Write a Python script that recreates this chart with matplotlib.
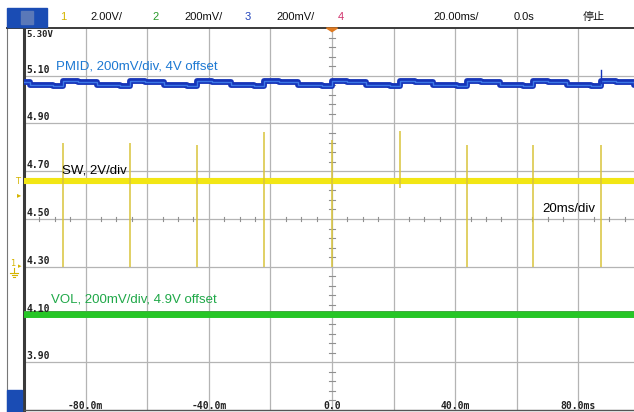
import matplotlib
matplotlib.use("Agg")
import matplotlib.pyplot as plt
from matplotlib.patches import Rectangle, Polygon
from matplotlib.lines import Line2D

W, H = 634, 412

# axis labels
x_ticks = [-80, -40, 0, 40, 80]
x_labels = ["-80.0m", "-40.0m", "0.0", "40.0m", "80.0ms"]
y_levels = [5.10, 4.90, 4.70, 4.50, 4.30, 4.10, 3.90]
y_labels = ["5.10", "4.90", "4.70", "4.50", "4.30", "4.10", "3.90"]

# PMID (blue): jumps once per switching burst, then steps down
pmid_jump_t = [-87.3, -65.6, -43.8, -22.1, 0.0, 22.1, 43.8, 65.3, 87.3]
pmid_step_frac = [0.0, 0.22, 0.5, 0.85]
pmid_step_v = [5.080, 5.072, 5.063, 5.055]

# SW (yellow): flat level with narrow spikes
sw_level = 4.659
sw_spike_t = [-87.3, -65.6, -43.8, -22.1, 0.0, 22.1, 43.8, 65.3, 87.3]
sw_spike_top = [4.818, 4.818, 4.81, 4.864, 4.83, 4.868, 4.81, 4.81, 4.81]
sw_spike_bot = [4.30, 4.30, 4.30, 4.30, 4.30, 4.63, 4.30, 4.30, 4.30]

# VOL (green)
vol_level = 4.104


def px(x, y):
    return x / W, 1 - y / H


fig = plt.figure(figsize=(W / 100, H / 100), dpi=100)
fig.patch.set_facecolor("white")
ax = fig.add_axes([24 / W, 2 / H, (W - 24) / W, 382 / H])
ax.set_xlim(-100, 98.05)
ax.set_ylim(3.70, 5.30)
ax.set_xticks([])
ax.set_yticks([])
ax.spines["right"].set_visible(False)
ax.spines["left"].set_linewidth(2.2)
ax.spines["left"].set_color("#3a3a3a")
ax.spines["top"].set_linewidth(1.4)
ax.spines["top"].set_color("#3a3a3a")
ax.spines["bottom"].set_linewidth(1.0)
ax.spines["bottom"].set_color("#555555")

# grid
grid_c = "#b4b4b4"
for t in range(-80, 100, 20):
    ax.axvline(t, color=grid_c, lw=0.9, zorder=1)
for v in y_levels:
    ax.axhline(v, color=grid_c, lw=0.9, zorder=1)

# minor ticks on centre axes
for k in range(-20, 20):
    t = k * 5
    if t % 20:
        ax.plot([t, t], [4.50 - 0.007, 4.50 + 0.007], color="#909090", lw=0.8, zorder=1)
for k in range(0, 41):
    v = 3.70 + k * 0.04
    if k % 5:
        ax.plot([-0.9, 0.9], [v, v], color="#909090", lw=0.8, zorder=1)

# VOL
ax.axhline(vol_level, color="#26c626", lw=5.0, zorder=3)
ax.axhline(vol_level + 0.011, color="#4f9a4f", lw=0.6, alpha=0.7, zorder=3)

# SW
ax.axhline(sw_level, color="#f2e614", lw=4.4, zorder=3)
ax.vlines(sw_spike_t, sw_spike_bot, sw_spike_top, color="#d9c43a", lw=1.1, zorder=3)

# PMID steps
starts = [pmid_jump_t[0] - (pmid_jump_t[1] - pmid_jump_t[0])] + pmid_jump_t
ends = starts[1:] + [pmid_jump_t[-1] + 21.8]
pt, pv = [], []
for s, e in zip(starts, ends):
    for f, v in zip(pmid_step_frac, pmid_step_v):
        pt.append(s + f * (e - s))
        pv.append(v)
pt.append(ends[-1])
pv.append(pmid_step_v[-1])
ax.step(pt, pv, where="post", color="#1634b8", lw=4.2, zorder=4)
ax.step(pt, pv, where="post", color="#3d78e6", lw=1.0, zorder=5)
ax.plot([87.3, 87.3], [5.07, 5.124], color="#1634b8", lw=1.0, zorder=5)

# trigger marker
ax.add_patch(Polygon([[-1.8, 5.30], [1.8, 5.30], [0, 5.285]], closed=True,
                     color="#e07a20", zorder=6, clip_on=False))

# tick texts
mono = dict(family="DejaVu Sans Mono", fontweight="bold", color="#222222")
ax.text(-99.3, 5.30 - 6 / 238.75, "5.30V", fontsize=6.5, va="center", ha="left", **mono)
for v, lab in zip(y_levels, y_labels):
    ax.text(-99.3, v + 6 / 238.75, lab, fontsize=7, va="center", ha="left", **mono)
for t, lab in zip(x_ticks, x_labels):
    ax.text(t, 3.70 + 4 / 238.75, lab, fontsize=7, va="center", ha="center", **mono)

# trace annotations
note = dict(fontsize=9.5, family="Liberation Sans", va="center", ha="left")
ax.text(-89.6, 5.30 - 39 / 238.75, "PMID, 200mV/div, 4V offset", color="#1c78d2", **note)
ax.text(-87.6, 5.30 - 143 / 238.75, "SW, 2V/div", color="black", **note)
ax.text(68.2, 5.30 - 181 / 238.75, "20ms/div", color="black", **note)
ax.text(-91.2, 5.30 - 272 / 238.75, "VOL, 200mV/div, 4.9V offset", color="#1fa848", **note)

# header bar
hdr = dict(fontsize=8, va="center", ha="center", family=["Liberation Sans", "Noto Sans CJK SC"])
fig.add_artist(Rectangle(px(7, 27), 40 / W, 19 / H, color="#1a4cb4", zorder=5))
fig.add_artist(Rectangle(px(21, 24), 12 / W, 13 / H, color="#5a78b8", zorder=6))
fig.text(*px(63, 17), "1", color="#d4b400", **hdr)
fig.text(*px(106, 17), "2.00V/", color="#111111", **hdr)
fig.text(*px(156, 17), "2", color="#2a9a2a", **hdr)
fig.text(*px(204, 17), "200mV/", color="#111111", **hdr)
fig.text(*px(248, 17), "3", color="#2244bb", **hdr)
fig.text(*px(296, 17), "200mV/", color="#111111", **hdr)
fig.text(*px(341, 17), "4", color="#d0306a", **hdr)
fig.text(*px(456, 17), "20.00ms/", color="#111111", **hdr)
fig.text(*px(524, 17), "0.0s", color="#111111", **hdr)
fig.text(*px(594, 17), "停止", color="#111111", **hdr)

# left strip with channel markers
ylw = "#d4b400"
fig.add_artist(Line2D([7 / W, 7 / W], [0, 1 - 28 / H], color="#777777", lw=0.8))
fig.add_artist(Line2D([7 / W, 24 / W], [1 - 28 / H, 1 - 28 / H], color="#3a3a3a", lw=1.4))
fig.add_artist(Rectangle(px(7, 412), 15 / W, 22 / H, color="#1a4cb4", zorder=5))
fig.text(*px(18, 182), "T", color=ylw, fontsize=6, ha="center", va="center")
fig.text(*px(19, 195), "▸", color=ylw, fontsize=6, ha="center", va="center")
fig.text(*px(13, 264), "1", color=ylw, fontsize=6, ha="center", va="center")
fig.text(*px(20, 266), "▸", color=ylw, fontsize=5, ha="center", va="center")
# ground symbol
fig.add_artist(Line2D([px(14, 268)[0]] * 2, [px(0, 268)[1], px(0, 273)[1]], color=ylw, lw=0.8))
for y0, hw in [(273, 4), (275, 2.5), (277, 1)]:
    fig.add_artist(Line2D([px(14 - hw, 0)[0], px(14 + hw, 0)[0]], [px(0, y0)[1]] * 2,
                          color=ylw, lw=0.8))

fig.savefig("out.png", dpi=100)
